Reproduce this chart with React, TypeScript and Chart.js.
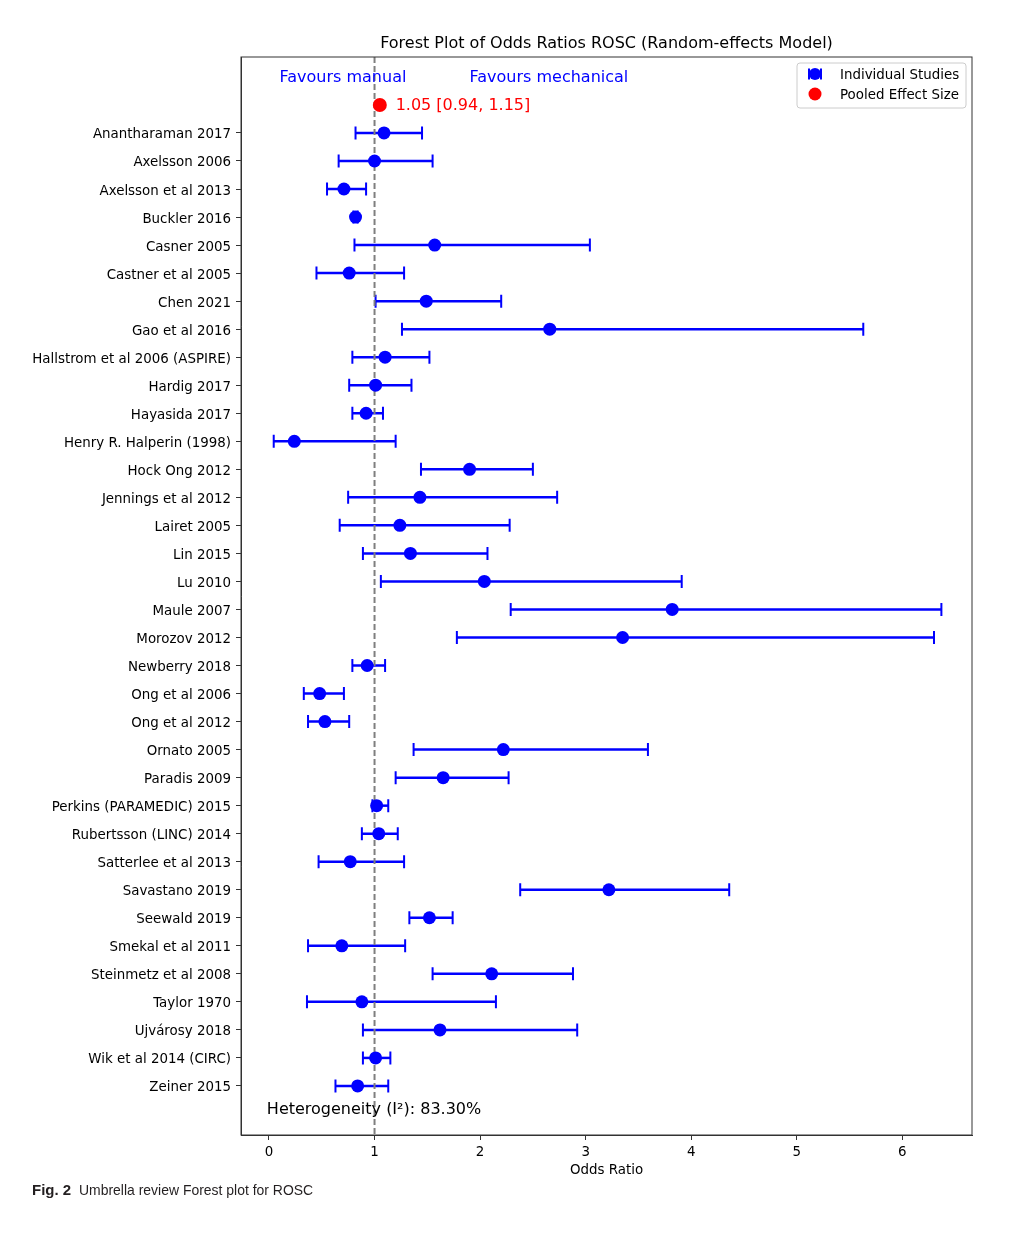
import React, { useEffect, useRef } from "react";
import { Chart, registerables } from "chart.js";

Chart.register(...registerables);

const studies = [
  "Anantharaman 2017",
  "Axelsson 2006",
  "Axelsson et al 2013",
  "Buckler 2016",
  "Casner 2005",
  "Castner et al 2005",
  "Chen 2021",
  "Gao et al 2016",
  "Hallstrom et al 2006 (ASPIRE)",
  "Hardig 2017",
  "Hayasida 2017",
  "Henry R. Halperin (1998)",
  "Hock Ong 2012",
  "Jennings et al 2012",
  "Lairet 2005",
  "Lin 2015",
  "Lu 2010",
  "Maule 2007",
  "Morozov 2012",
  "Newberry 2018",
  "Ong et al 2006",
  "Ong et al 2012",
  "Ornato 2005",
  "Paradis 2009",
  "Perkins (PARAMEDIC) 2015",
  "Rubertsson (LINC) 2014",
  "Satterlee et al 2013",
  "Savastano 2019",
  "Seewald 2019",
  "Smekal et al 2011",
  "Steinmetz et al 2008",
  "Taylor 1970",
  "Ujvárosy 2018",
  "Wik et al 2014 (CIRC)",
  "Zeiner 2015",
];

const oddsRatios = [
  1.09, 1.0, 0.71, 0.82, 1.57, 0.76, 1.49, 2.66, 1.1, 1.01, 0.92, 0.24,
  1.9, 1.43, 1.24, 1.34, 2.04, 3.82, 3.35, 0.93, 0.48, 0.53, 2.22, 1.65,
  1.02, 1.04, 0.77, 3.22, 1.52, 0.69, 2.11, 0.88, 1.62, 1.01, 0.84,
];

const ciLower = [
  0.82, 0.66, 0.55, 0.8, 0.81, 0.45, 1.01, 1.26, 0.79, 0.76, 0.79, 0.045,
  1.44, 0.75, 0.67, 0.89, 1.06, 2.29, 1.78, 0.79, 0.33, 0.37, 1.37, 1.2,
  0.98, 0.88, 0.47, 2.38, 1.33, 0.37, 1.55, 0.36, 0.89, 0.89, 0.63,
];

const ciUpper = [
  1.45, 1.55, 0.92, 0.84, 3.04, 1.28, 2.2, 5.63, 1.52, 1.35, 1.08, 1.2,
  2.5, 2.73, 2.28, 2.07, 3.91, 6.37, 6.3, 1.1, 0.71, 0.76, 3.59, 2.27,
  1.13, 1.22, 1.28, 4.36, 1.74, 1.29, 2.88, 2.15, 2.92, 1.15, 1.13,
];

const pooledEffect = [1.05];
const pooledCI = [0.94, 1.15];
const heterogeneityI2 = [83.3];
const xTickValues = [0, 1, 2, 3, 4, 5, 6];

const FONT = "'DejaVu Sans', sans-serif";

export default function App() {
  const ref = useRef<HTMLCanvasElement>(null);

  useEffect(() => {
    const canvas = ref.current;
    if (!canvas) return;

    const errorBarPlugin = {
      id: "errorBars",
      beforeDatasetsDraw(chart: any) {
        const { ctx, scales } = chart;
        const x = scales.x;
        const y = scales.y;
        ctx.save();
        ctx.strokeStyle = "#0000ff";
        studies.forEach((_, i) => {
          const yp = y.getPixelForValue(i);
          const x1 = x.getPixelForValue(ciLower[i]);
          const x2 = x.getPixelForValue(ciUpper[i]);
          ctx.lineWidth = 2.5;
          ctx.beginPath();
          ctx.moveTo(x1, yp);
          ctx.lineTo(x2, yp);
          ctx.stroke();
          ctx.lineWidth = 2;
          ctx.beginPath();
          ctx.moveTo(x1, yp - 6.5);
          ctx.lineTo(x1, yp + 6.5);
          ctx.moveTo(x2, yp - 6.5);
          ctx.lineTo(x2, yp + 6.5);
          ctx.stroke();
        });
        ctx.restore();
      },
    };

    const decorPlugin = {
      id: "decor",
      afterDraw(chart: any) {
        const { ctx, chartArea, scales } = chart;
        const x = scales.x;
        const y = scales.y;
        const dy = 2;
        ctx.save();
        // frame
        ctx.strokeStyle = "#333333";
        ctx.lineWidth = 1;
        ctx.strokeRect(chartArea.left, chartArea.top, chartArea.right - chartArea.left, chartArea.bottom - chartArea.top);

        // title
        ctx.fillStyle = "#000000";
        ctx.textBaseline = "middle";
        ctx.textAlign = "center";
        ctx.font = `16px ${FONT}`;
        const cx = (chartArea.left + chartArea.right) / 2;
        ctx.fillText("Forest Plot of Odds Ratios ROSC (Random-effects Model)", cx, chartArea.top - 15 + dy);

        // x-axis title
        ctx.font = `13.4px ${FONT}`;
        ctx.fillText("Odds Ratio", cx, chartArea.bottom + 34 + dy);

        // annotations
        ctx.textAlign = "left";
        ctx.font = `16px ${FONT}`;
        ctx.fillStyle = "#0000ff";
        ctx.fillText("Favours manual", x.getPixelForValue(0.1), y.getPixelForValue(-2.03) + dy);
        ctx.fillText("Favours mechanical", x.getPixelForValue(1.9), y.getPixelForValue(-2.03) + dy);
        ctx.fillStyle = "#ff0000";
        ctx.fillText(
          `${pooledEffect[0].toFixed(2)} [${pooledCI[0].toFixed(2)}, ${pooledCI[1].toFixed(2)}]`,
          x.getPixelForValue(1.2),
          y.getPixelForValue(-1) + dy - 1
        );
        ctx.fillStyle = "#000000";
        ctx.fillText(
          `Heterogeneity (I²): ${heterogeneityI2[0].toFixed(2)}%`,
          x.getPixelForValue(-0.02),
          y.getPixelForValue(34.78) + dy
        );

        // legend
        const lx = chartArea.right - 175;
        const ly = chartArea.top + 6;
        const lw = 169;
        const lh = 45;
        ctx.beginPath();
        const r = 3;
        ctx.moveTo(lx + r, ly);
        ctx.lineTo(lx + lw - r, ly);
        ctx.arcTo(lx + lw, ly, lx + lw, ly + r, r);
        ctx.lineTo(lx + lw, ly + lh - r);
        ctx.arcTo(lx + lw, ly + lh, lx + lw - r, ly + lh, r);
        ctx.lineTo(lx + r, ly + lh);
        ctx.arcTo(lx, ly + lh, lx, ly + lh - r, r);
        ctx.lineTo(lx, ly + r);
        ctx.arcTo(lx, ly, lx + r, ly, r);
        ctx.closePath();
        ctx.fillStyle = "rgba(255,255,255,0.8)";
        ctx.fill();
        ctx.strokeStyle = "#cccccc";
        ctx.lineWidth = 1;
        ctx.stroke();

        const mx = lx + 18;
        const y1 = ly + 11;
        const y2 = ly + 31;
        // errorbar marker
        ctx.strokeStyle = "#0000ff";
        ctx.lineWidth = 2.5;
        ctx.beginPath();
        ctx.moveTo(mx - 6, y1);
        ctx.lineTo(mx + 6, y1);
        ctx.stroke();
        ctx.lineWidth = 2;
        ctx.beginPath();
        ctx.moveTo(mx - 6, y1 - 5.5);
        ctx.lineTo(mx - 6, y1 + 5.5);
        ctx.moveTo(mx + 6, y1 - 5.5);
        ctx.lineTo(mx + 6, y1 + 5.5);
        ctx.stroke();
        ctx.fillStyle = "#0000ff";
        ctx.beginPath();
        ctx.arc(mx, y1, 6, 0, Math.PI * 2);
        ctx.fill();
        ctx.fillStyle = "#ff0000";
        ctx.beginPath();
        ctx.arc(mx, y2, 6.5, 0, Math.PI * 2);
        ctx.fill();

        ctx.fillStyle = "#000000";
        ctx.font = `13.4px ${FONT}`;
        ctx.textAlign = "left";
        ctx.fillText("Individual Studies", lx + 43, y1 + 1.5);
        ctx.fillText("Pooled Effect Size", lx + 43, y2 + 1.5);
        ctx.restore();
      },
    };

    const chart = new Chart(canvas, {
      type: "scatter",
      data: {
        datasets: [
          {
            label: "Individual Studies",
            data: oddsRatios.map((v, i) => ({ x: v, y: i })),
            backgroundColor: "#0000ff",
            borderWidth: 0,
            pointRadius: 6.5,
            pointHoverRadius: 6.5,
            order: 1,
          },
          {
            label: "Pooled Effect Size",
            data: [{ x: pooledEffect[0], y: -1 }],
            backgroundColor: "#ff0000",
            borderWidth: 0,
            pointRadius: 7,
            pointHoverRadius: 7,
            order: 1,
          },
          {
            label: "No effect",
            data: [
              { x: 1, y: -2.71 },
              { x: 1, y: 35.75 },
            ],
            showLine: true,
            borderColor: "#7f7f7f",
            borderWidth: 2,
            borderDash: [6, 3],
            pointRadius: 0,
            pointHoverRadius: 0,
            order: 3,
          },
        ],
      },
      options: {
        animation: false,
        responsive: false,
        devicePixelRatio: 1,
        layout: { padding: { left: 0, top: 57, right: 40, bottom: 49 } },
        plugins: {
          legend: { display: false },
          tooltip: { enabled: false },
          title: { display: false },
        },
        scales: {
          x: {
            type: "linear",
            min: -0.265,
            max: 6.66,
            afterBuildTicks: (scale: any) => {
              scale.ticks = xTickValues.map((v) => ({ value: v }));
            },
            afterFit: (scale: any) => {
              scale.height = 50;
            },
            ticks: {
              color: "#000000",
              font: { family: FONT, size: 13.4 },
              padding: 4,
              autoSkip: false,
              maxRotation: 0,
              callback: (v: any) => String(v),
            },
            grid: {
              display: true,
              drawOnChartArea: false,
              drawTicks: true,
              tickLength: 5,
              tickColor: "#333333",
              tickWidth: 1,
            },
            border: { display: true, color: "#333333", width: 1 },
          },
          y: {
            type: "linear",
            reverse: true,
            min: -2.71,
            max: 35.75,
            afterBuildTicks: (scale: any) => {
              scale.ticks = studies.map((_, i) => ({ value: i }));
            },
            afterFit: (scale: any) => {
              scale.width = 241;
            },
            ticks: {
              color: "#000000",
              font: { family: FONT, size: 13.4 },
              padding: 5,
              labelOffset: 2,
              autoSkip: false,
              callback: (v: any) => studies[v] ?? "",
            },
            grid: {
              display: true,
              drawOnChartArea: false,
              drawTicks: true,
              tickLength: 5,
              tickColor: "#333333",
              tickWidth: 1,
            },
            border: { display: true, color: "#333333", width: 1 },
          },
        },
      },
      plugins: [errorBarPlugin, decorPlugin],
    });

    return () => {
      chart.destroy();
    };
  }, []);

  const captionFont = "'Liberation Sans Narrow', 'Liberation Sans', sans-serif";
  return (
    <div style={{ position: "absolute", left: 0, top: 0, width: 1012, height: 1234, background: "#ffffff" }}>
      <canvas ref={ref} width={1012} height={1234} style={{ display: "block", width: 1012, height: 1234 }} />
      <div
        style={{
          position: "absolute",
          left: 32,
          top: 1181,
          fontFamily: captionFont,
          fontSize: 15,
          fontWeight: "bold",
          color: "#231f20",
          whiteSpace: "nowrap",
        }}
      >
        Fig. 2
      </div>
      <div
        style={{
          position: "absolute",
          left: 79,
          top: 1181,
          fontFamily: captionFont,
          fontSize: 15,
          color: "#231f20",
          whiteSpace: "nowrap",
          transform: "scaleX(0.93)",
          transformOrigin: "left top",
        }}
      >
        Umbrella review Forest plot for ROSC
      </div>
    </div>
  );
}
